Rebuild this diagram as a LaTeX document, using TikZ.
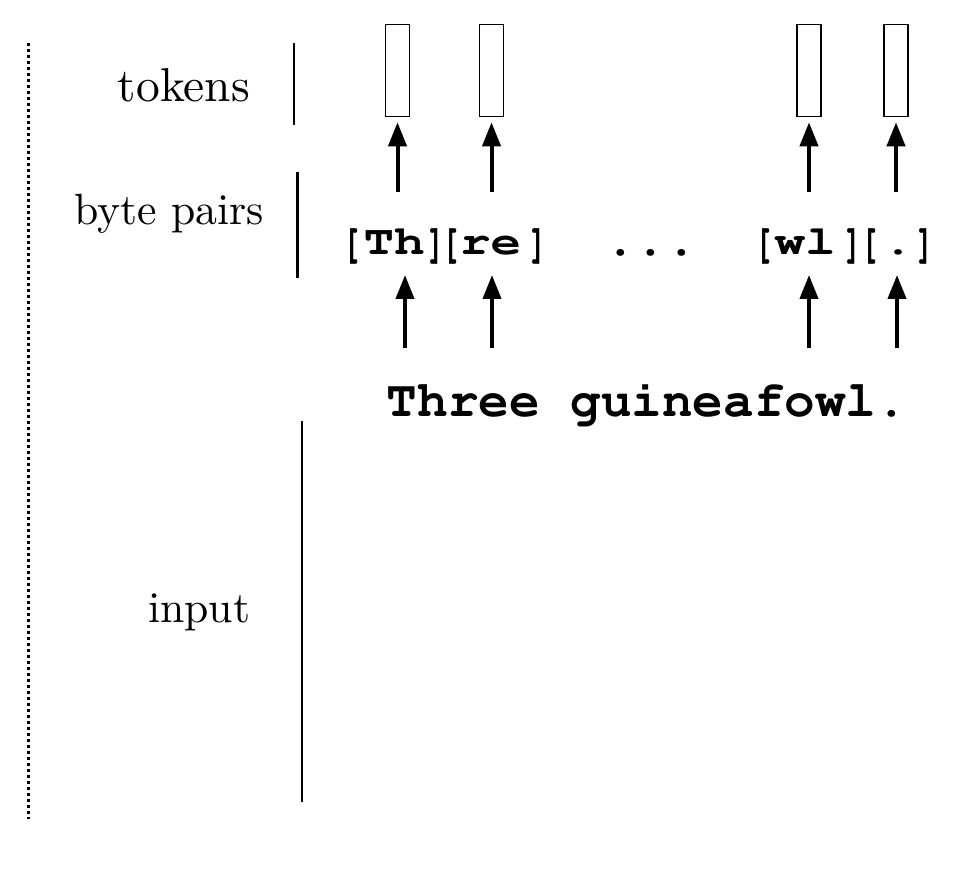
\documentclass[tikz,border=0pt]{standalone}
\usepackage[T1,TU]{fontenc}
\newcommand\courb{\fontencoding{T1}\fontfamily{pcr}\fontseries{b}\fontshape{n}}
\usetikzlibrary{arrows.meta}
\tikzset{
  tokbox/.style={draw, line width=1.6pt, minimum width=24pt, minimum height=92pt, inner sep=0pt},
  arr/.style={line width=4pt, -{Triangle[width=18pt,length=24pt]}},
  lbl/.style={anchor=base east, inner sep=0pt, font=\fontsize{10}{12}\selectfont},
  sep/.style={line width=#1},
  pairtxt/.style={inner sep=0pt, anchor=base, xscale=1.24, font=\courb\fontsize{41}{44}\selectfont},
  brk/.style={inner sep=0pt, anchor=base, xscale=0.7, font=\courb\fontsize{46}{50}\selectfont},
  bigmono/.style={inner sep=0pt, anchor=base, font=\courb\fontsize{51}{56}\selectfont},
}
\begin{document}
\begin{tikzpicture}[x=1pt,y=-1pt]
\useasboundingbox (0,0) rectangle (972,874);
% dotted frame line
\coordinate (d1) at (28,43);
\coordinate (d2) at (28,819);
\draw[line width=3pt, dash pattern=on 3pt off 3pt] (d1) -- (d2);
% labels
\node[lbl, scale=4.75] (ltok) at (251,102) {tokens};
\node[lbl, scale=4.37] (lbp) at (265,225) {byte pairs};
\node[lbl, scale=4.37] (lin) at (251,622) {input};
% separators
\coordinate (s1a) at (294,43);  \coordinate (s1b) at (294,125);
\coordinate (s2a) at (297,172); \coordinate (s2b) at (297,278);
\coordinate (s3a) at (302,421); \coordinate (s3b) at (302,802);
\draw[sep=1.6pt] (s1a) -- (s1b);
\draw[sep=3pt] (s2a) -- (s2b);
\draw[sep=2pt] (s3a) -- (s3b);
% token boxes
\node[tokbox] (b1) at (397.5,70.5) {};
\node[tokbox] (b2) at (491.5,70.5) {};
\node[tokbox] (b3) at (809,70.5) {};
\node[tokbox] (b4) at (896,70.5) {};
% byte pairs
\node[pairtxt] (p1) at (394,255) {Th};
\node[pairtxt] (p2) at (490.5,255) {re};
\node[pairtxt] (p3) at (805,255) {wl};
\node[pairtxt] (p4) at (898,255) {.};
\node[brk] (o1) at (352,258) {[};
\node[brk] (c1) at (436,258) {]};
\node[brk] (o2) at (451,258) {[};
\node[brk] (c2) at (538,258) {]};
\node[brk] (o3) at (764,258) {[};
\node[brk] (c3) at (853,258) {]};
\node[brk] (o4) at (870,258) {[};
\node[brk] (c4) at (925,258) {]};
\node[bigmono] (dots) at (651,256) {...};
% input
\node[bigmono] (inp) at (647,417) {Three guineafowl.};
% upper arrows
\coordinate (u1) at (397.5,192); \coordinate (u2) at (491.5,192);
\coordinate (u3) at (809,192);   \coordinate (u4) at (896,192);
\draw[arr, shorten >=5pt] (u1) -- (b1.south);
\draw[arr, shorten >=5pt] (u2) -- (b2.south);
\draw[arr, shorten >=5pt] (u3) -- (b3.south);
\draw[arr, shorten >=5pt] (u4) -- (b4.south);
% lower arrows
\coordinate (l1) at (405,348); \coordinate (t1) at (405,275);
\coordinate (l2) at (492,348); \coordinate (t2) at (492,275);
\coordinate (l3) at (809,348); \coordinate (t3) at (809,275);
\coordinate (l4) at (897,348); \coordinate (t4) at (897,275);
\draw[arr] (l1) -- (t1);
\draw[arr] (l2) -- (t2);
\draw[arr] (l3) -- (t3);
\draw[arr] (l4) -- (t4);
\end{tikzpicture}
\end{document}
